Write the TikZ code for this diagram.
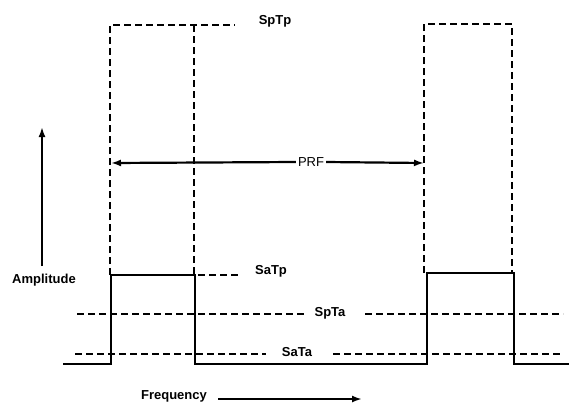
\documentclass[tikz,border=0pt]{standalone}
\usepackage{fontspec}
\setmainfont{Liberation Sans}
\usetikzlibrary{arrows.meta}
\begin{document}
\begin{tikzpicture}[x=1pt,y=-1pt,
  solidline/.style={line width=2.6pt,line join=miter},
  dashline/.style={line width=2.2pt,dash pattern=on 7pt off 4pt},
  lbl/.style={font=\bfseries\fontsize{13}{15}\selectfont,inner sep=1pt},
  arr/.style={line width=2.2pt,-{Latex[length=10pt,width=7pt]}}]
\useasboundingbox (0,0) rectangle (569,405);
% solid signal
\draw[solidline] (63,364) -- (111,364) -- (111,275) -- (195,275) -- (195,364)
  -- (427,364) -- (427,273) -- (514,273) -- (514,364) -- (569,364);
% dashed peak pulses
\draw[dashline] (110,275) -- (110,25) -- (235,25);
\draw[dashline] (194,25) -- (194,275);
\draw[dashline] (424,273) -- (424,24) -- (512,24) -- (512,273);
% labels
\node[lbl] (sptp) at (275,21) {SpTp};
\node[lbl] (satp) at (271,271) {SaTp};
\node[lbl] (spta) at (330,313) {SpTa};
\node[lbl] (sata) at (297,352) {SaTa};
\node[lbl] (amp) at (44,280) {Amplitude};
\node[lbl] (freq) at (174,396) {Frequency};
\node[font=\fontsize{13}{15}\selectfont,inner sep=2pt] (prf) at (311,162) {PRF};
% level lines
\draw[dashline] (198,275) -- (240,275);
\draw[dashline] (77,314) -- (306,314);
\draw[dashline] (365,314) -- (563,314);
\draw[dashline] (75,354) -- (266,354);
\draw[dashline] (333,354) -- (563,354);
% arrows
\coordinate (ampbot) at (42,266);
\coordinate (amptop) at (42,127);
\draw[arr] (ampbot) -- (amptop);
\coordinate (fs) at (218,399);
\coordinate (fe) at (362,399);
\draw[arr] (fs) -- (fe);
\coordinate (prfl) at (111,163);
\coordinate (prfr) at (424,163);
\draw[arr] (prf.west) -- (prfl);
\draw[arr] (prf.east) -- (prfr);
\end{tikzpicture}
\end{document}
